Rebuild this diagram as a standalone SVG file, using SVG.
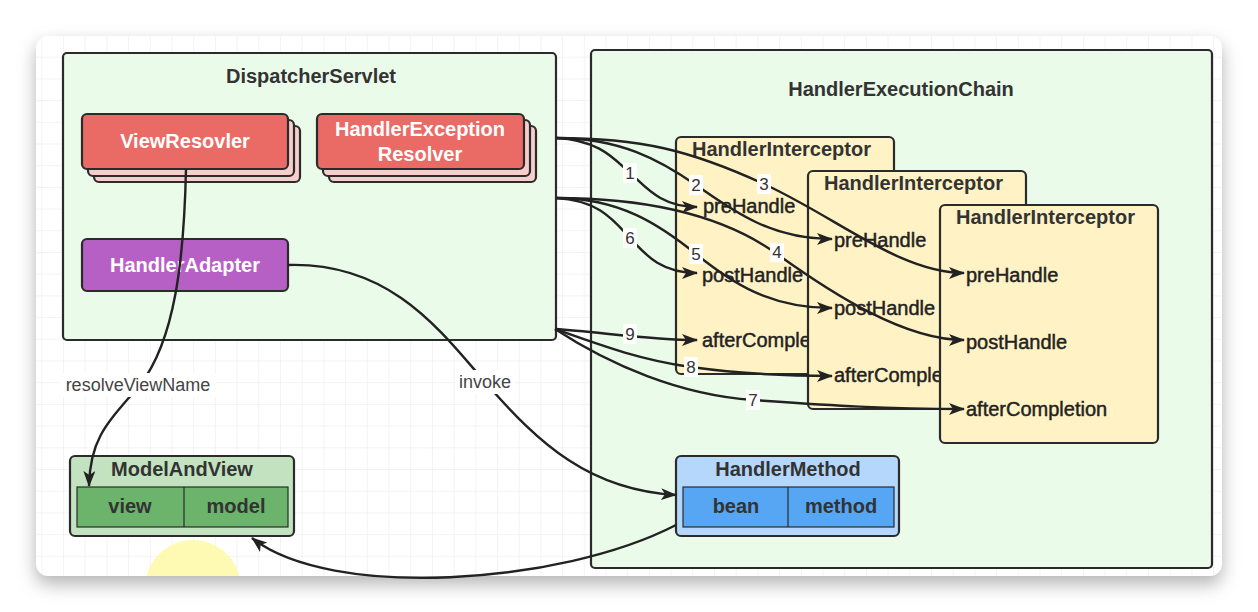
<svg xmlns="http://www.w3.org/2000/svg" width="1258" height="612" viewBox="0 0 1258 612">
<defs>
  <pattern id="grid" x="63" y="35" width="21.7" height="21.7" patternUnits="userSpaceOnUse">
    <path d="M0,0 H21.7 M0,0 V21.7" fill="none" stroke="#e8e8ea" stroke-width="1"/>
  </pattern>
  <filter id="shadow" x="-10%" y="-10%" width="120%" height="130%">
    <feGaussianBlur stdDeviation="9"/>
  </filter>
  <clipPath id="panelClip"><rect x="36" y="36" width="1186" height="540" rx="12"/></clipPath>
  <marker id="arr" viewBox="0 0 16 12" refX="15" refY="6" markerWidth="16" markerHeight="12" markerUnits="userSpaceOnUse" orient="auto">
    <path d="M0,0 L16,6 L0,12 L4,6 Z" fill="#222"/>
  </marker>
  <style>
    .box{stroke:#2b2b2b;stroke-width:2.2}
    .cont{fill:#ebfbea}
    .red{fill:#ea6b66}
    .pink{fill:#f8cecc}
    .purple{fill:#b65fc5}
    .yellow{fill:#fff2c4}
    .t{font-family:"Liberation Sans",Arial,sans-serif;fill:#333}
    .h{font-weight:bold;font-size:20px}
    .w{fill:#ffffff;font-weight:bold;font-size:20px}
    .m{font-size:20px;fill:#222;stroke:#222;stroke-width:0.45}
    .n{font-size:17px;fill:#333}
    .lbl{font-size:18px;fill:#444}
    .c{fill:none;stroke:#222;stroke-width:2.4}
    .bg{fill:#ffffff}
  </style>
</defs>

<rect width="1258" height="612" fill="#ffffff"/>
<rect x="36" y="44" width="1186" height="540" rx="12" fill="#9a9a9a" filter="url(#shadow)" opacity="0.75"/>
<rect x="36" y="36" width="1186" height="540" rx="12" fill="#ffffff"/>
<rect x="36" y="36" width="1186" height="540" rx="12" fill="url(#grid)"/>

<g id="DispatcherServlet">
  <rect class="box cont" x="63" y="53" width="493" height="287" rx="4"/>
  <text class="t h" x="311" y="83" text-anchor="middle">DispatcherServlet</text>
</g>

<g id="HandlerExecutionChain">
  <rect class="box cont" x="591" y="50" width="621" height="518" rx="4"/>
  <text class="t h" x="901" y="96" text-anchor="middle">HandlerExecutionChain</text>
</g>

<g id="ViewResolver">
  <rect class="box pink" x="94" y="126" width="206" height="56" rx="5"/>
  <rect class="box pink" x="88" y="120" width="206" height="56" rx="5"/>
  <rect class="box red" x="82" y="114" width="206" height="55" rx="5"/>
  <text class="t w" x="185" y="148" text-anchor="middle">ViewResovler</text>
</g>

<g id="HandlerExceptionResolver">
  <rect class="box pink" x="329" y="126" width="207" height="56" rx="5"/>
  <rect class="box pink" x="323" y="120" width="207" height="56" rx="5"/>
  <rect class="box red" x="317" y="114" width="207" height="55" rx="5"/>
  <text class="t w" x="420" y="136" text-anchor="middle">HandlerException</text>
  <text class="t w" x="420" y="161" text-anchor="middle">Resolver</text>
</g>

<g id="HandlerAdapter">
  <rect class="box purple" x="82" y="239" width="206" height="52" rx="5"/>
  <text class="t w" x="185" y="272" text-anchor="middle">HandlerAdapter</text>
</g>

<g id="Interceptor1">
  <rect class="box yellow" x="676" y="137" width="218" height="237" rx="5"/>
  <text class="t h" x="692" y="156">HandlerInterceptor</text>
  <text class="t m" x="703" y="213">preHandle</text>
  <text class="t m" x="702" y="282">postHandle</text>
  <text class="t m" x="702" y="347">afterComple</text>
</g>

<g id="Interceptor2">
  <rect class="box yellow" x="808" y="171" width="218" height="238" rx="5"/>
  <text class="t h" x="824" y="190">HandlerInterceptor</text>
  <text class="t m" x="834" y="247">preHandle</text>
  <text class="t m" x="834" y="315">postHandle</text>
  <text class="t m" x="834" y="382">afterComple</text>
</g>

<g id="Interceptor3">
  <rect class="box yellow" x="940" y="205" width="218" height="238" rx="5"/>
  <text class="t h" x="956" y="224">HandlerInterceptor</text>
  <text class="t m" x="966" y="282">preHandle</text>
  <text class="t m" x="966" y="349">postHandle</text>
  <text class="t m" x="966" y="416">afterCompletion</text>
</g>

<g id="ModelAndView">
  <rect class="box" x="70" y="456" width="224" height="80" rx="5" fill="#c3e2c0"/>
  <text class="t h" x="182" y="476" text-anchor="middle">ModelAndView</text>
  <rect x="77" y="487" width="211" height="40" fill="#6cb36b" stroke="#2b2b2b" stroke-width="1.2"/>
  <line x1="184" y1="487" x2="184" y2="527" stroke="#2b2b2b" stroke-width="1.2"/>
  <text class="t h" x="130" y="513" text-anchor="middle">view</text>
  <text class="t h" x="236" y="513" text-anchor="middle">model</text>
</g>

<g id="HandlerMethod">
  <rect class="box" x="676" y="456" width="223" height="80" rx="5" fill="#b5d7fb"/>
  <text class="t h" x="788" y="476" text-anchor="middle">HandlerMethod</text>
  <rect x="683" y="487" width="211" height="40" fill="#56a6f4" stroke="#2b2b2b" stroke-width="1.2"/>
  <line x1="788" y1="487" x2="788" y2="527" stroke="#2b2b2b" stroke-width="1.2"/>
  <text class="t h" x="736" y="513" text-anchor="middle">bean</text>
  <text class="t h" x="841" y="513" text-anchor="middle">method</text>
</g>

<g id="connectors">
  <!-- preHandle: 1,2,3 -->
  <path class="c" d="M556,138 C600,140 615,160 630,173 S660,207 697,207" marker-end="url(#arr)"/>
  <path class="c" d="M556,138 C620,138 660,160 696,185 S770,239 832,239" marker-end="url(#arr)"/>
  <path class="c" d="M556,138 C640,138 690,150 764,184 S900,273 964,273" marker-end="url(#arr)"/>
  <!-- postHandle: 6,5,4 -->
  <path class="c" d="M556,198 C600,200 615,222 630,238 S660,273 697,273" marker-end="url(#arr)"/>
  <path class="c" d="M556,198 C620,198 660,225 696,254 S770,308 832,308" marker-end="url(#arr)"/>
  <path class="c" d="M556,198 C640,198 720,213 777,254 S905,340 964,340" marker-end="url(#arr)"/>
  <!-- afterCompletion: 9,8,7 -->
  <path class="c" d="M555,329 C600,332 650,340 697,340" marker-end="url(#arr)"/>
  <path class="c" d="M555,329 C600,345 640,360 691,367 S790,376 832,376" marker-end="url(#arr)"/>
  <path class="c" d="M555,329 C610,365 680,395 753,400 S880,409 964,409" marker-end="url(#arr)"/>

  <!-- resolveViewName -->
  <path class="c" d="M186,169 C184,260 175,340 140,385 C105,425 90,440 89,486" marker-end="url(#arr)"/>
  <!-- invoke -->
  <path class="c" d="M288,265 C390,262 440,330 485,382 C540,445 590,490 676,495" marker-end="url(#arr)"/>
  <!-- HandlerMethod -> ModelAndView -->
  <path class="c" d="M676,525 C560,585 330,600 252,538" marker-end="url(#arr)"/>

  <g class="t n" text-anchor="middle">
    <rect class="bg" x="623" y="163" width="14" height="20"/><text x="630" y="179">1</text>
    <rect class="bg" x="689" y="175" width="14" height="20"/><text x="696" y="191">2</text>
    <rect class="bg" x="757" y="174" width="14" height="20"/><text x="764" y="190">3</text>
    <rect class="bg" x="770" y="243" width="14" height="19"/><text x="777" y="258">4</text>
    <rect class="bg" x="689" y="244" width="14" height="20"/><text x="696" y="260">5</text>
    <rect class="bg" x="623" y="228" width="14" height="20"/><text x="630" y="244">6</text>
    <rect class="bg" x="746" y="390" width="14" height="20"/><text x="753" y="406">7</text>
    <rect class="bg" x="684" y="357" width="14" height="20"/><text x="691" y="373">8</text>
    <rect class="bg" x="623" y="324" width="14" height="20"/><text x="630" y="340">9</text>
  </g>
  <rect class="bg" x="60" y="373" width="156" height="24"/>
  <text class="t lbl" x="138" y="391" text-anchor="middle">resolveViewName</text>
  <rect class="bg" x="455" y="370" width="60" height="24"/>
  <text class="t lbl" x="485" y="388" text-anchor="middle">invoke</text>
</g>

<g clip-path="url(#panelClip)">
  <circle cx="193" cy="588" r="48" fill="#fff9a6" opacity="0.85"/>
</g>
</svg>
